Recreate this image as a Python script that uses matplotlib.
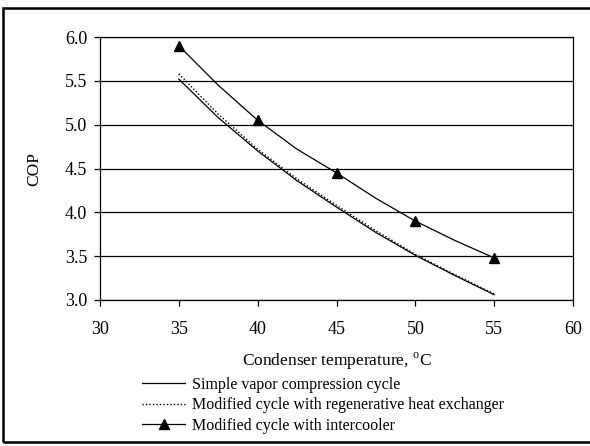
import numpy as np
import matplotlib.pyplot as plt
from matplotlib.patches import Rectangle

plt.rcParams['font.family'] = ['Liberation Serif', 'DejaVu Serif']
plt.rcParams['mathtext.fontset'] = 'custom'
plt.rcParams['mathtext.rm'] = 'Liberation Serif'

# condenser temperature [C]
temp = [35, 37.5, 40, 42.5, 45, 47.5, 50, 52.5, 55]
cop_simple = [5.52, 5.08, 4.70, 4.36, 4.06, 3.77, 3.51, 3.28, 3.06]
cop_regen = [5.58, 5.12, 4.72, 4.38, 4.08, 3.79, 3.52, 3.29, 3.07]
cop_inter = [5.90, 5.45, 5.05, 4.72, 4.45, 4.16, 3.90, 3.68, 3.48]

labels = ["Simple vapor compression cycle",
          "Modified cycle with regenerative heat exchanger",
          "Modified cycle with intercooler"]

fig = plt.figure(figsize=(5.90, 4.46), dpi=100)
ax = fig.add_axes([100/590, 1 - 300/446, 473/590, 263/446])

ax.plot(temp, cop_simple, color="black", linewidth=0.9, label=labels[0])
ax.plot(temp, cop_regen, color="black", linewidth=1.0, linestyle=(0, (1, 1.5)), label=labels[1])
ax.plot(temp, cop_inter, color="black", linewidth=0.9, marker="^", markersize=7.5,
        markevery=2, label=labels[2])

ax.set_xlim(30, 60)
ax.set_ylim(3.0, 6.0)
ax.set_xticks(np.arange(30, 61, 5))
ax.set_yticks(np.arange(3.0, 6.01, 0.5))
ax.set_yticklabels([f"{v:.1f}" for v in np.arange(3.0, 6.01, 0.5)])
ax.yaxis.grid(True, color="black", linewidth=0.9)
ax.set_axisbelow(True)
ax.tick_params(axis="both", direction="out", length=4.3, width=0.9, labelsize=13, colors="black")
ax.tick_params(axis="x", pad=11)
ax.tick_params(axis="y", pad=5)
for s in ax.spines.values():
    s.set_linewidth(0.9)
    s.set_color("black")

ax.set_xlabel(r"Condenser temperature, $^{\rm o}$C", fontsize=12.5, labelpad=9)
ax.set_ylabel("COP", fontsize=12.5, labelpad=16)

fig.legend(loc="upper left", bbox_to_anchor=(142/590, 1 - 377/446), frameon=False,
           fontsize=11.5, handlelength=2.7, handletextpad=0.45, labelspacing=0.28,
           borderpad=0, borderaxespad=0)

# outer frame around the chart
fig.patches.append(Rectangle((3/590, 4/446), 1.0, 1 - 12/446, transform=fig.transFigure,
                             fill=False, edgecolor="black", linewidth=1.8))

fig.savefig("out.png", dpi=100)
